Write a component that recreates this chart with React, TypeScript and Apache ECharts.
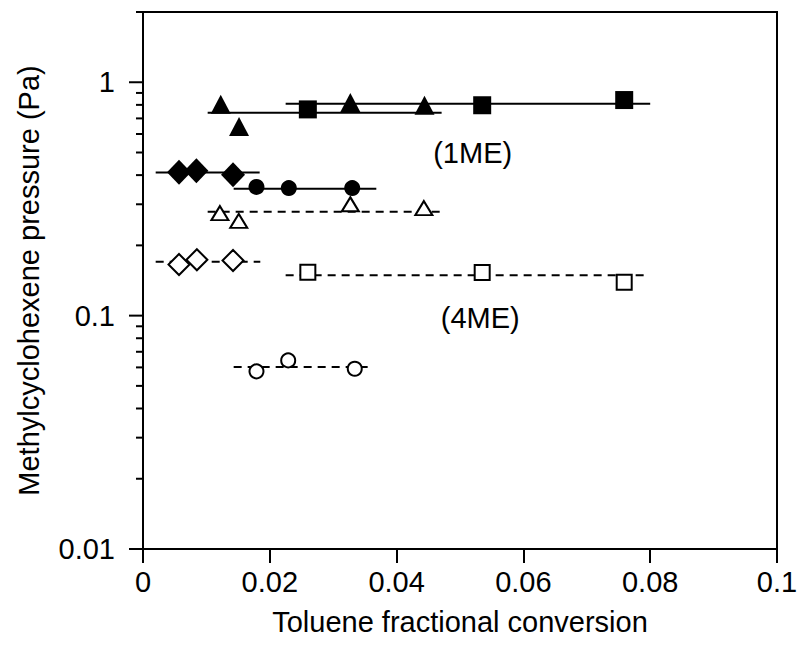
import React, { useEffect, useRef } from "react";
import * as echarts from "echarts";

// ---- data ----
// 1ME (filled symbols)
const fSquareX = [0.026, 0.0535, 0.0759];
const fSquareY = [0.765, 0.797, 0.839];
const fSquareFit = { x: [0.0225, 0.08], y: 0.808 };

const fTriX = [0.01226, 0.01515, 0.0327, 0.0444];
const fTriY = [0.805, 0.646, 0.819, 0.797];
const fTriFit = { x: [0.0102, 0.0471], y: 0.74 };

const fDiaX = [0.00568, 0.00842, 0.0142];
const fDiaY = [0.412, 0.418, 0.401];
const fDiaFit = { x: [0.002, 0.0184], y: 0.41 };

const fCircX = [0.0179, 0.023, 0.033];
const fCircY = [0.356, 0.352, 0.352];
const fCircFit = { x: [0.0143, 0.0368], y: 0.35 };

// 4ME (open symbols)
const oTriX = [0.01213, 0.0151, 0.0327, 0.0443];
const oTriY = [0.275, 0.2545, 0.3, 0.289];
const oTriFit = { x: [0.0102, 0.0469], y: 0.279 };

const oDiaX = [0.00568, 0.0085, 0.0142];
const oDiaY = [0.1656, 0.1735, 0.1723];
const oDiaFit = { x: [0.002, 0.0185], y: 0.17 };

const oSquareX = [0.026, 0.0535, 0.0759];
const oSquareY = [0.1536, 0.153, 0.139];
const oSquareFit = { x: [0.0225, 0.0794], y: 0.149 };

const oCircX = [0.0179, 0.0229, 0.0334];
const oCircY = [0.0577, 0.0643, 0.0592];
const oCircFit = { x: [0.0143, 0.0358], y: 0.0602 };

// annotations (data coordinates)
const annotations = [
  { text: "(1ME)", x: 0.052, y: 0.5 },
  { text: "(4ME)", x: 0.0532, y: 0.0973 },
];

// axis ticks
const yMajorTicks = [0.01, 0.1, 1];
const yMinorTicks = [
  0.02, 0.03, 0.04, 0.05, 0.06, 0.07, 0.08, 0.09,
  0.2, 0.3, 0.4, 0.5, 0.6, 0.7, 0.8, 0.9, 2,
];

const FONT = "'Liberation Sans', Arial, Helvetica, sans-serif";
const FS = 29;

const zip = (xs: number[], ys: number[]) => xs.map((x, i) => [x, ys[i]]);

function fitLine(fit: { x: number[]; y: number }, dashed: boolean) {
  return {
    type: "line",
    data: fit.x.map((x) => [x, fit.y]),
    symbol: "none",
    silent: true,
    z: 2,
    lineStyle: {
      color: "#000",
      width: 2,
      type: dashed ? [8, 6] : "solid",
    },
  };
}

function marks(
  xs: number[],
  ys: number[],
  symbol: string,
  size: number | number[],
  filled: boolean
) {
  return {
    type: "scatter",
    data: zip(xs, ys),
    symbol,
    symbolSize: size,
    z: 5,
    itemStyle: filled
      ? { color: "#000", opacity: 1 }
      : { color: "#fff", borderColor: "#000", borderWidth: 2, opacity: 1 },
  };
}

function tickSeries(values: number[], len: number) {
  return {
    type: "custom",
    silent: true,
    clip: false,
    z: 10,
    encode: { x: 0, y: 1 },
    data: values.map((v) => [0, v]),
    renderItem: (_p: any, api: any) => {
      const pt = api.coord([0, api.value(1)]);
      return {
        type: "line",
        shape: { x1: pt[0] - len, y1: pt[1], x2: pt[0], y2: pt[1] },
        style: { stroke: "#000", lineWidth: 2 },
      };
    },
  };
}

export default function App() {
  const ref = useRef<HTMLDivElement>(null);
  useEffect(() => {
    if (!ref.current) return;
    const chart = echarts.init(ref.current, null, { renderer: "svg" });
    chart.setOption({
      animation: false,
      backgroundColor: "#fff",
      textStyle: { fontFamily: FONT, color: "#000" },
      grid: {
        left: 143,
        right: 24,
        top: 12,
        bottom: 101,
        show: true,
        borderColor: "#000",
        borderWidth: 2,
        backgroundColor: "transparent",
      },
      xAxis: {
        type: "value",
        min: 0,
        max: 0.1,
        interval: 0.02,
        name: "Toluene fractional conversion",
        nameLocation: "middle",
        nameGap: 58,
        nameTextStyle: { fontSize: FS, color: "#000", fontFamily: FONT },
        axisLine: { show: true, lineStyle: { color: "#000", width: 2 } },
        axisTick: { show: true, inside: false, length: 14, lineStyle: { color: "#000", width: 2 } },
        axisLabel: { fontSize: FS, color: "#000", margin: 18, fontFamily: FONT },
        splitLine: { show: false },
      },
      yAxis: {
        type: "log",
        logBase: 10,
        min: 0.01,
        max: 2,
        name: "Methylcyclohexene pressure (Pa)",
        nameLocation: "middle",
        nameRotate: 90,
        nameGap: 100,
        nameTextStyle: { fontSize: FS, color: "#000", fontFamily: FONT },
        axisLine: { show: true, lineStyle: { color: "#000", width: 2 } },
        axisTick: { show: false },
        axisLabel: {
          fontSize: FS,
          color: "#000",
          margin: 28,
          fontFamily: FONT,
          showMaxLabel: false,
        },
        splitLine: { show: false },
        minorTick: { show: false },
      },
      series: [
        fitLine(fSquareFit, false),
        fitLine(fTriFit, false),
        fitLine(fDiaFit, false),
        fitLine(fCircFit, false),
        fitLine(oTriFit, true),
        fitLine(oDiaFit, true),
        fitLine(oSquareFit, true),
        fitLine(oCircFit, true),
        marks(fSquareX, fSquareY, "rect", 18, true),
        marks(fTriX, fTriY, "triangle", [20, 19], true),
        marks(fDiaX, fDiaY, "diamond", [24, 25], true),
        marks(fCircX, fCircY, "circle", 16, true),
        marks(oTriX, oTriY, "triangle", [17, 14], false),
        marks(oDiaX, oDiaY, "diamond", [21, 21], false),
        marks(oSquareX, oSquareY, "rect", 15, false),
        marks(oCircX, oCircY, "circle", 14, false),
        tickSeries(yMajorTicks, 14),
        tickSeries(yMinorTicks, 7),
        {
          type: "scatter",
          silent: true,
          symbolSize: 1,
          itemStyle: { color: "rgba(0,0,0,0)", opacity: 1 },
          z: 6,
          data: annotations.map((a) => ({ name: a.text, value: [a.x, a.y] })),
          label: {
            show: true,
            position: "inside",
            formatter: (p: any) => p.name,
            fontSize: FS,
            color: "#000",
            opacity: 1,
            fontFamily: FONT,
          },
        },
      ],
    });
    return () => chart.dispose();
  }, []);
  return (
    <div
      ref={ref}
      style={{ position: "fixed", left: 0, top: 0, width: 801, height: 650 }}
    />
  );
}
